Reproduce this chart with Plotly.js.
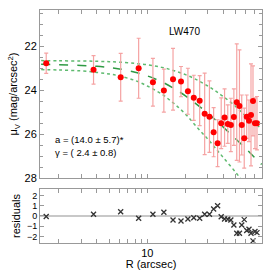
<!DOCTYPE html>
<html><head><meta charset="utf-8">
<script src="https://cdn.plot.ly/plotly-3.0.1.min.js"></script>
<style>html,body{margin:0;padding:0;background:#fff}#c{width:270px;height:270px}</style>
</head><body><div id="c"></div>
<script>
// Data points (R in arcsec, surface brightness, error)
const radius = [1.59, 3.76, 6.16, 8.54, 11.07, 13.51, 15.96, 18.45, 20.92, 23.28, 25.91, 28.37, 30.95, 33.4, 35.9, 38.32, 40.75, 43.19, 45.68, 48.26, 50.86, 53.42, 55.69, 58.27, 60.95, 63.55, 65.9, 68.33, 70.86, 73.48];
const mu = [22.76, 23.06, 23.40, 22.99, 23.63, 24.01, 23.49, 23.60, 24.04, 24.34, 24.47, 25.07, 25.20, 25.91, 26.41, 25.50, 25.24, 25.54, 25.58, 25.22, 24.54, 24.71, 25.58, 26.18, 25.20, 25.39, 25.12, 24.48, 25.50, 25.50];
const muErr = [0.46, 0.65, 1.09, 1.37, 1.09, 0.98, 1.41, 0.69, 1.05, 1.03, 1.14, 1.86, 1.63, 1.12, 1.07, 1.16, 1.31, 0.88, 1.22, 1.29, 2.66, 2.56, 1.37, 1.37, 0.99, 0.95, 2.33, 1.60, 1.16, 1.22];
const residuals = [-0.05, 0.17, 0.42, -0.22, 0.17, 0.36, -0.39, -0.49, -0.29, -0.17, -0.22, 0.17, 0.17, 0.68, 1.0, -0.07, -0.29, -0.32, -0.39, -0.88, -1.69, -1.69, -0.88, -0.36, -1.43, -1.30, -1.69, -2.44, -1.53, -1.63];
// Model curves
const modelR = [1.45, 2, 3, 4, 5, 6, 8, 10, 13, 16, 20, 25, 30, 35, 40, 50, 60, 70, 80];
const modelFit = [22.81, 22.83, 22.86, 22.90, 22.96, 23.02, 23.17, 23.34, 23.61, 23.89, 24.25, 24.67, 25.04, 25.38, 25.69, 26.22, 26.66, 27.05, 27.38];
const modelUpper = [22.64, 22.65, 22.66, 22.67, 22.69, 22.71, 22.77, 22.83, 22.95, 23.09, 23.28, 23.54, 23.80, 24.05, 24.29, 24.74, 25.18, 25.50, 25.75];
const modelLower = [23.05, 23.07, 23.11, 23.18, 23.25, 23.34, 23.55, 23.80, 24.17, 24.57, 25.08, 25.72, 26.22, 26.68, 27.08, 27.75, 28.35, 28.90, 29.40];
// Ticks
const xMajorTicks = [10];
const xMajorText = ['10'];
const xMinorTicks = [2, 3, 4, 5, 6, 7, 8, 9, 20, 30, 40, 50, 60, 70, 80];
const galaxyName = 'LW470';
const fitText1 = 'a = (14.0 ± 5.7)*';
const fitText2 = 'γ = ( 2.4 ± 0.8)';

const font = {family: 'Liberation Sans, Arial, sans-serif', size: 11, color: '#000'};
const axisCommon = {showline: true, mirror: 'ticks', linecolor: '#999', linewidth: 1,
  ticks: 'inside', tickcolor: '#999', ticklen: 4, showgrid: false, zeroline: false};
const xMinor = {tickmode: 'array', tickvals: xMinorTicks, ticks: 'inside', ticklen: 4, tickcolor: '#999', showgrid: false};

const traces = [
  {x: modelR, y: modelUpper, mode: 'lines', line: {color: '#5fba6f', width: 1.5, dash: 'dot', shape: 'spline'}, xaxis: 'x', yaxis: 'y', hoverinfo: 'skip'},
  {x: modelR, y: modelLower, mode: 'lines', line: {color: '#5fba6f', width: 1.5, dash: 'dot', shape: 'spline'}, xaxis: 'x', yaxis: 'y', hoverinfo: 'skip'},
  {x: modelR, y: modelFit, mode: 'lines', line: {color: '#2f9a44', width: 1.5, dash: 'dash', shape: 'spline'}, xaxis: 'x', yaxis: 'y', hoverinfo: 'skip'},
  {x: radius, y: mu, mode: 'markers', marker: {color: '#ff0000', size: 6, symbol: 'circle'},
   error_y: {type: 'data', array: muErr, visible: true, color: '#f5a3a3', thickness: 1.2, width: 2},
   xaxis: 'x', yaxis: 'y'},
  {x: radius, y: residuals, mode: 'markers', marker: {color: '#333', size: 5, symbol: 'x-thin-open', line: {color: '#333', width: 1.3}},
   xaxis: 'x2', yaxis: 'y2'}
];

const layout = {
  width: 270, height: 270, showlegend: false,
  margin: {l: 40, r: 8, t: 10, b: 27},
  paper_bgcolor: '#fff', plot_bgcolor: '#fff', font: font,
  xaxis: Object.assign({}, axisCommon, {type: 'log', range: [Math.log10(1.42), Math.log10(80.5)],
    tickmode: 'array', tickvals: xMajorTicks, ticktext: xMajorText, showticklabels: false, anchor: 'y', matches: 'x2',
    minor: xMinor}),
  yaxis: Object.assign({}, axisCommon, {domain: [0.279, 1], range: [28, 20.33], dtick: 2, tick0: 0,
    minor: {dtick: 0.5, ticks: 'inside', ticklen: 3, tickcolor: '#999'},
    title: {text: 'μ<sub>V</sub> (mag/arcsec<sup>2</sup>)', font: {size: 11}, standoff: 4}}),
  xaxis2: Object.assign({}, axisCommon, {type: 'log', range: [Math.log10(1.42), Math.log10(80.5)],
    tickmode: 'array', tickvals: xMajorTicks, ticktext: xMajorText, anchor: 'y2', minor: xMinor,
    title: {text: 'R (arcsec)', font: {size: 11}, standoff: 0}}),
  yaxis2: Object.assign({}, axisCommon, {domain: [0, 0.232], range: [-2.65, 2.65], dtick: 1, anchor: 'x2',
    tickfont: {size: 9},
    zeroline: true, zerolinecolor: '#c8c8c8', zerolinewidth: 2,
    title: {text: 'residuals', font: {size: 11}, standoff: 4}}),
  annotations: [
    {text: galaxyName, xref: 'paper', yref: 'paper', x: 0.73, y: 0.94, showarrow: false, font: {size: 10}},
    {text: fitText1, xref: 'paper', yref: 'paper', x: 0.059, y: 0.446, xanchor: 'left', showarrow: false, font: {size: 9.5}},
    {text: fitText2, xref: 'paper', yref: 'paper', x: 0.059, y: 0.39, xanchor: 'left', showarrow: false, font: {size: 9.5}}
  ]
};

Plotly.newPlot('c', traces, layout, {staticPlot: true, displayModeBar: false});
</script></body></html>
